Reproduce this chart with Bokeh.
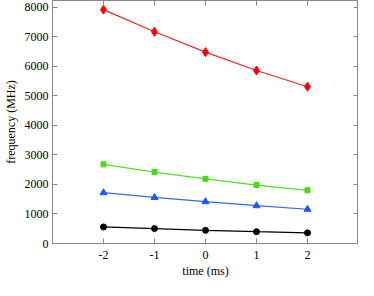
from bokeh.plotting import figure
from bokeh.models import FixedTicker, Range1d, LinearAxis
from bokeh.embed import file_html
from bokeh.resources import INLINE

time_ms = [-2, -1, 0, 1, 2]
red_vals = [7920, 7170, 6480, 5860, 5310]
green_vals = [2680, 2420, 2190, 1980, 1800]
blue_vals = [1720, 1560, 1415, 1280, 1160]
black_vals = [560, 505, 445, 400, 360]
x_ticks = [-2, -1, 0, 1, 2]
x_tick_labels = ["-2", "-1", "0", "1", "2"]
y_ticks = [0, 1000, 2000, 3000, 4000, 5000, 6000, 7000, 8000]

p = figure(width=358, height=280, output_backend="svg", toolbar_location=None,
           x_range=Range1d(-3, 3), y_range=Range1d(0, 8230),
           min_border_left=0, min_border_right=0, min_border_top=0, min_border_bottom=0)
p.outline_line_color = "#888888"
p.outline_line_width = 1
p.grid.visible = False

FONT = "Liberation Serif"
for ax in (p.xaxis[0], p.yaxis[0]):
    ax.axis_line_color = "#888888"
    ax.major_tick_line_color = "#888888"
    ax.major_tick_in = 5
    ax.major_tick_out = 0
    ax.minor_tick_line_color = None
    ax.major_label_text_font = FONT
    ax.major_label_text_font_size = "12px"
    ax.major_label_text_color = "black"
    ax.axis_label_text_font = FONT
    ax.axis_label_text_font_size = "12px"
    ax.axis_label_text_font_style = "normal"
    ax.axis_label_text_color = "black"

p.xaxis.ticker = FixedTicker(ticks=x_ticks)
p.xaxis.major_label_overrides = dict(zip(x_ticks, x_tick_labels))
p.yaxis.ticker = FixedTicker(ticks=y_ticks)
p.xaxis.axis_label = "time (ms)"
p.yaxis.axis_label = "frequency (MHz)"
p.xaxis.major_label_standoff = 7
p.yaxis.major_label_standoff = 4
p.xaxis.axis_label_standoff = 2
p.yaxis.axis_label_standoff = 4

# inward ticks on top and right, without labels
top = LinearAxis(ticker=FixedTicker(ticks=x_ticks),
                 major_label_overrides={t: "" for t in x_ticks},
                 axis_line_color=None, major_tick_line_color="#888888",
                 major_tick_in=5, major_tick_out=0, minor_tick_line_color=None,
                 major_label_standoff=0)
right = LinearAxis(ticker=FixedTicker(ticks=y_ticks),
                   major_label_overrides={t: "" for t in y_ticks},
                   axis_line_color=None, major_tick_line_color="#888888",
                   major_tick_in=5, major_tick_out=0, minor_tick_line_color=None,
                   major_label_standoff=0)
p.add_layout(top, "above")
p.add_layout(right, "right")

p.line(time_ms, red_vals, color="#ff2020", line_width=1.2)
p.scatter(time_ms, red_vals, marker="diamond", size=9, color="#ff0000")
p.line(time_ms, green_vals, color="#55dd22", line_width=1.2)
p.scatter(time_ms, green_vals, marker="square", size=5, color="#44dd11")
p.line(time_ms, blue_vals, color="#2f66ff", line_width=1.2)
p.scatter(time_ms, blue_vals, marker="triangle", size=7, color="#1f55ff")
p.line(time_ms, black_vals, color="black", line_width=1.2)
p.scatter(time_ms, black_vals, marker="circle", size=6, color="black")

open("out.html", "w").write(file_html(p, INLINE))
